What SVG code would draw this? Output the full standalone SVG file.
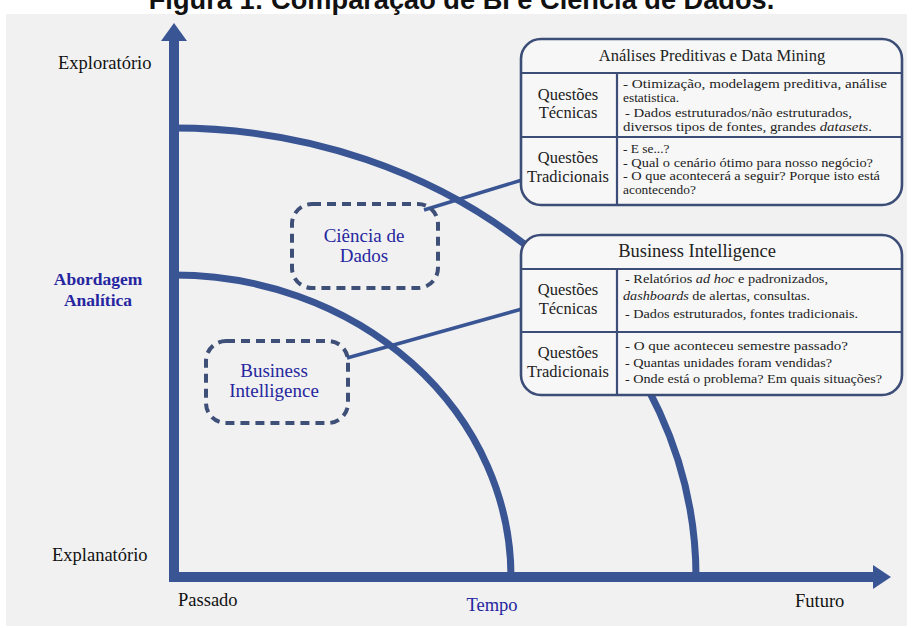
<svg xmlns="http://www.w3.org/2000/svg" width="913" height="628" viewBox="0 0 913 628">
<style>
.ax{stroke:#3a5594;stroke-width:10;fill:none}
.cv{stroke:#3a5594;stroke-width:7;fill:none}
.cn{stroke:#3a5594;stroke-width:3.5;fill:none}
.dash{stroke:#3f5078;stroke-width:4;fill:none;stroke-dasharray:9 6}
.box{fill:#f7f7f7;stroke:#3c4d78;stroke-width:2.6}
.div{stroke:#3c4d78;stroke-width:2.2}
.lbl{font-family:"Liberation Serif","Times New Roman",serif;font-size:18.5px;fill:#111}
.blue{font-family:"Liberation Serif","Times New Roman",serif;fill:#2626a0}
.hd{font-family:"Liberation Serif","Times New Roman",serif;fill:#222;text-anchor:middle}
.tx{font-family:"Liberation Serif","Times New Roman",serif;font-size:13.4px;fill:#222}
</style>
<rect x="0" y="0" width="913" height="628" fill="#ffffff"/>
<rect x="6" y="14" width="901" height="612" fill="#f1f1f1"/>
<text x="461.5" y="8.5" text-anchor="middle" font-family="'Liberation Sans',Arial,sans-serif" font-weight="bold" font-size="27.2" fill="#111">Figura 1: Comparação de BI e Ciência de Dados.</text>

<g id="axes">
<line class="ax" x1="174" y1="582" x2="174" y2="38"/>
<polygon points="174,23 161,41 187,41" fill="#3a5594"/>
<line class="ax" x1="169" y1="577" x2="876" y2="577"/>
<polygon points="891,577 873,565 873,589" fill="#3a5594"/>
</g>

<g id="curves">
<path class="cv" d="M174 128 A522 449 0 0 1 696 577"/>
<path class="cv" d="M174 275 A337 302 0 0 1 511 577"/>
</g>

<g id="connectors">
<line class="cn" x1="424" y1="210" x2="522" y2="180"/>
<line class="cn" x1="347" y1="358" x2="522" y2="309"/>
</g>

<g id="axis-labels">
<text class="lbl" x="58" y="69">Exploratório</text>
<text class="lbl" x="52" y="561" font-size="19">Explanatório</text>
<text class="lbl" x="178" y="606">Passado</text>
<text class="lbl" x="795" y="607">Futuro</text>
<text class="blue" x="492" y="611" font-size="18.5" text-anchor="middle">Tempo</text>
<text class="blue" x="98" y="285" font-size="17.5" font-weight="bold" text-anchor="middle">Abordagem</text>
<text class="blue" x="98" y="306" font-size="17.5" font-weight="bold" text-anchor="middle">Analítica</text>
</g>

<g id="ciencia-de-dados">
<rect class="dash" x="292" y="204" width="146" height="84" rx="20"/>
<text class="blue" x="364" y="242" font-size="19" text-anchor="middle">Ciência de</text>
<text class="blue" x="364" y="262" font-size="19" text-anchor="middle">Dados</text>
</g>

<g id="business-intelligence">
<rect class="dash" x="206" y="341" width="142" height="82" rx="20"/>
<text class="blue" x="274" y="377" font-size="19" text-anchor="middle">Business</text>
<text class="blue" x="274" y="397" font-size="19" text-anchor="middle">Intelligence</text>
</g>

<g id="box-analises">
<rect class="box" x="521" y="39" width="381" height="166" rx="20"/>
<line class="div" x1="521" y1="73" x2="902" y2="73"/>
<line class="div" x1="521" y1="137" x2="902" y2="137"/>
<line class="div" x1="617" y1="73" x2="617" y2="205"/>
<text class="hd" x="712" y="61" font-size="16.5">Análises Preditivas e Data Mining</text>
<text class="hd" x="568" y="100" font-size="16.5">Questões</text>
<text class="hd" x="568" y="118" font-size="16.5">Técnicas</text>
<text class="hd" x="568" y="163" font-size="16.5">Questões</text>
<text class="hd" x="568" y="182" font-size="16.5">Tradicionais</text>
<text class="tx" x="623" y="88" textLength="264" lengthAdjust="spacingAndGlyphs">- Otimização, modelagem preditiva, análise</text>
<text class="tx" x="623" y="102" font-size="12">estatistica.</text>
<text class="tx" x="625" y="117" textLength="227" lengthAdjust="spacingAndGlyphs">- Dados estruturados/não estruturados,</text>
<text class="tx" x="623" y="131" textLength="249" lengthAdjust="spacingAndGlyphs">diversos tipos de fontes,  grandes <tspan font-style="italic">datasets</tspan>.</text>
<text class="tx" x="623" y="152.5" font-size="13.6">- E se...?</text>
<text class="tx" x="623" y="166.5" textLength="250" lengthAdjust="spacingAndGlyphs">- Qual o cenário ótimo para nosso negócio?</text>
<text class="tx" x="623" y="180" textLength="257" lengthAdjust="spacingAndGlyphs">- O que acontecerá a seguir? Porque isto está</text>
<text class="tx" x="623" y="193.5" font-size="12.5">acontecendo?</text>
</g>

<g id="box-bi">
<rect class="box" x="521" y="235" width="381" height="160" rx="20"/>
<line class="div" x1="521" y1="269" x2="902" y2="269"/>
<line class="div" x1="521" y1="332" x2="902" y2="332"/>
<line class="div" x1="617" y1="269" x2="617" y2="395"/>
<text class="hd" x="697" y="257" font-size="18.5">Business Intelligence</text>
<text class="hd" x="568" y="295" font-size="16.5">Questões</text>
<text class="hd" x="568" y="314" font-size="16.5">Técnicas</text>
<text class="hd" x="568" y="358" font-size="16.5">Questões</text>
<text class="hd" x="568" y="377" font-size="16.5">Tradicionais</text>
<text class="tx" x="625" y="283" textLength="203" lengthAdjust="spacingAndGlyphs">- Relatórios <tspan font-style="italic">ad hoc</tspan> e padronizados,</text>
<text class="tx" x="623" y="300" textLength="187" lengthAdjust="spacingAndGlyphs"><tspan font-style="italic">dashboards</tspan> de alertas, consultas.</text>
<text class="tx" x="625" y="318" textLength="233" lengthAdjust="spacingAndGlyphs">- Dados estruturados, fontes tradicionais.</text>
<text class="tx" x="625" y="350" textLength="223" lengthAdjust="spacingAndGlyphs">- O que aconteceu semestre passado?</text>
<text class="tx" x="625" y="367" textLength="207" lengthAdjust="spacingAndGlyphs">- Quantas unidades foram vendidas?</text>
<text class="tx" x="625" y="383" textLength="257" lengthAdjust="spacingAndGlyphs">- Onde está o problema? Em quais situações?</text>
</g>
</svg>
